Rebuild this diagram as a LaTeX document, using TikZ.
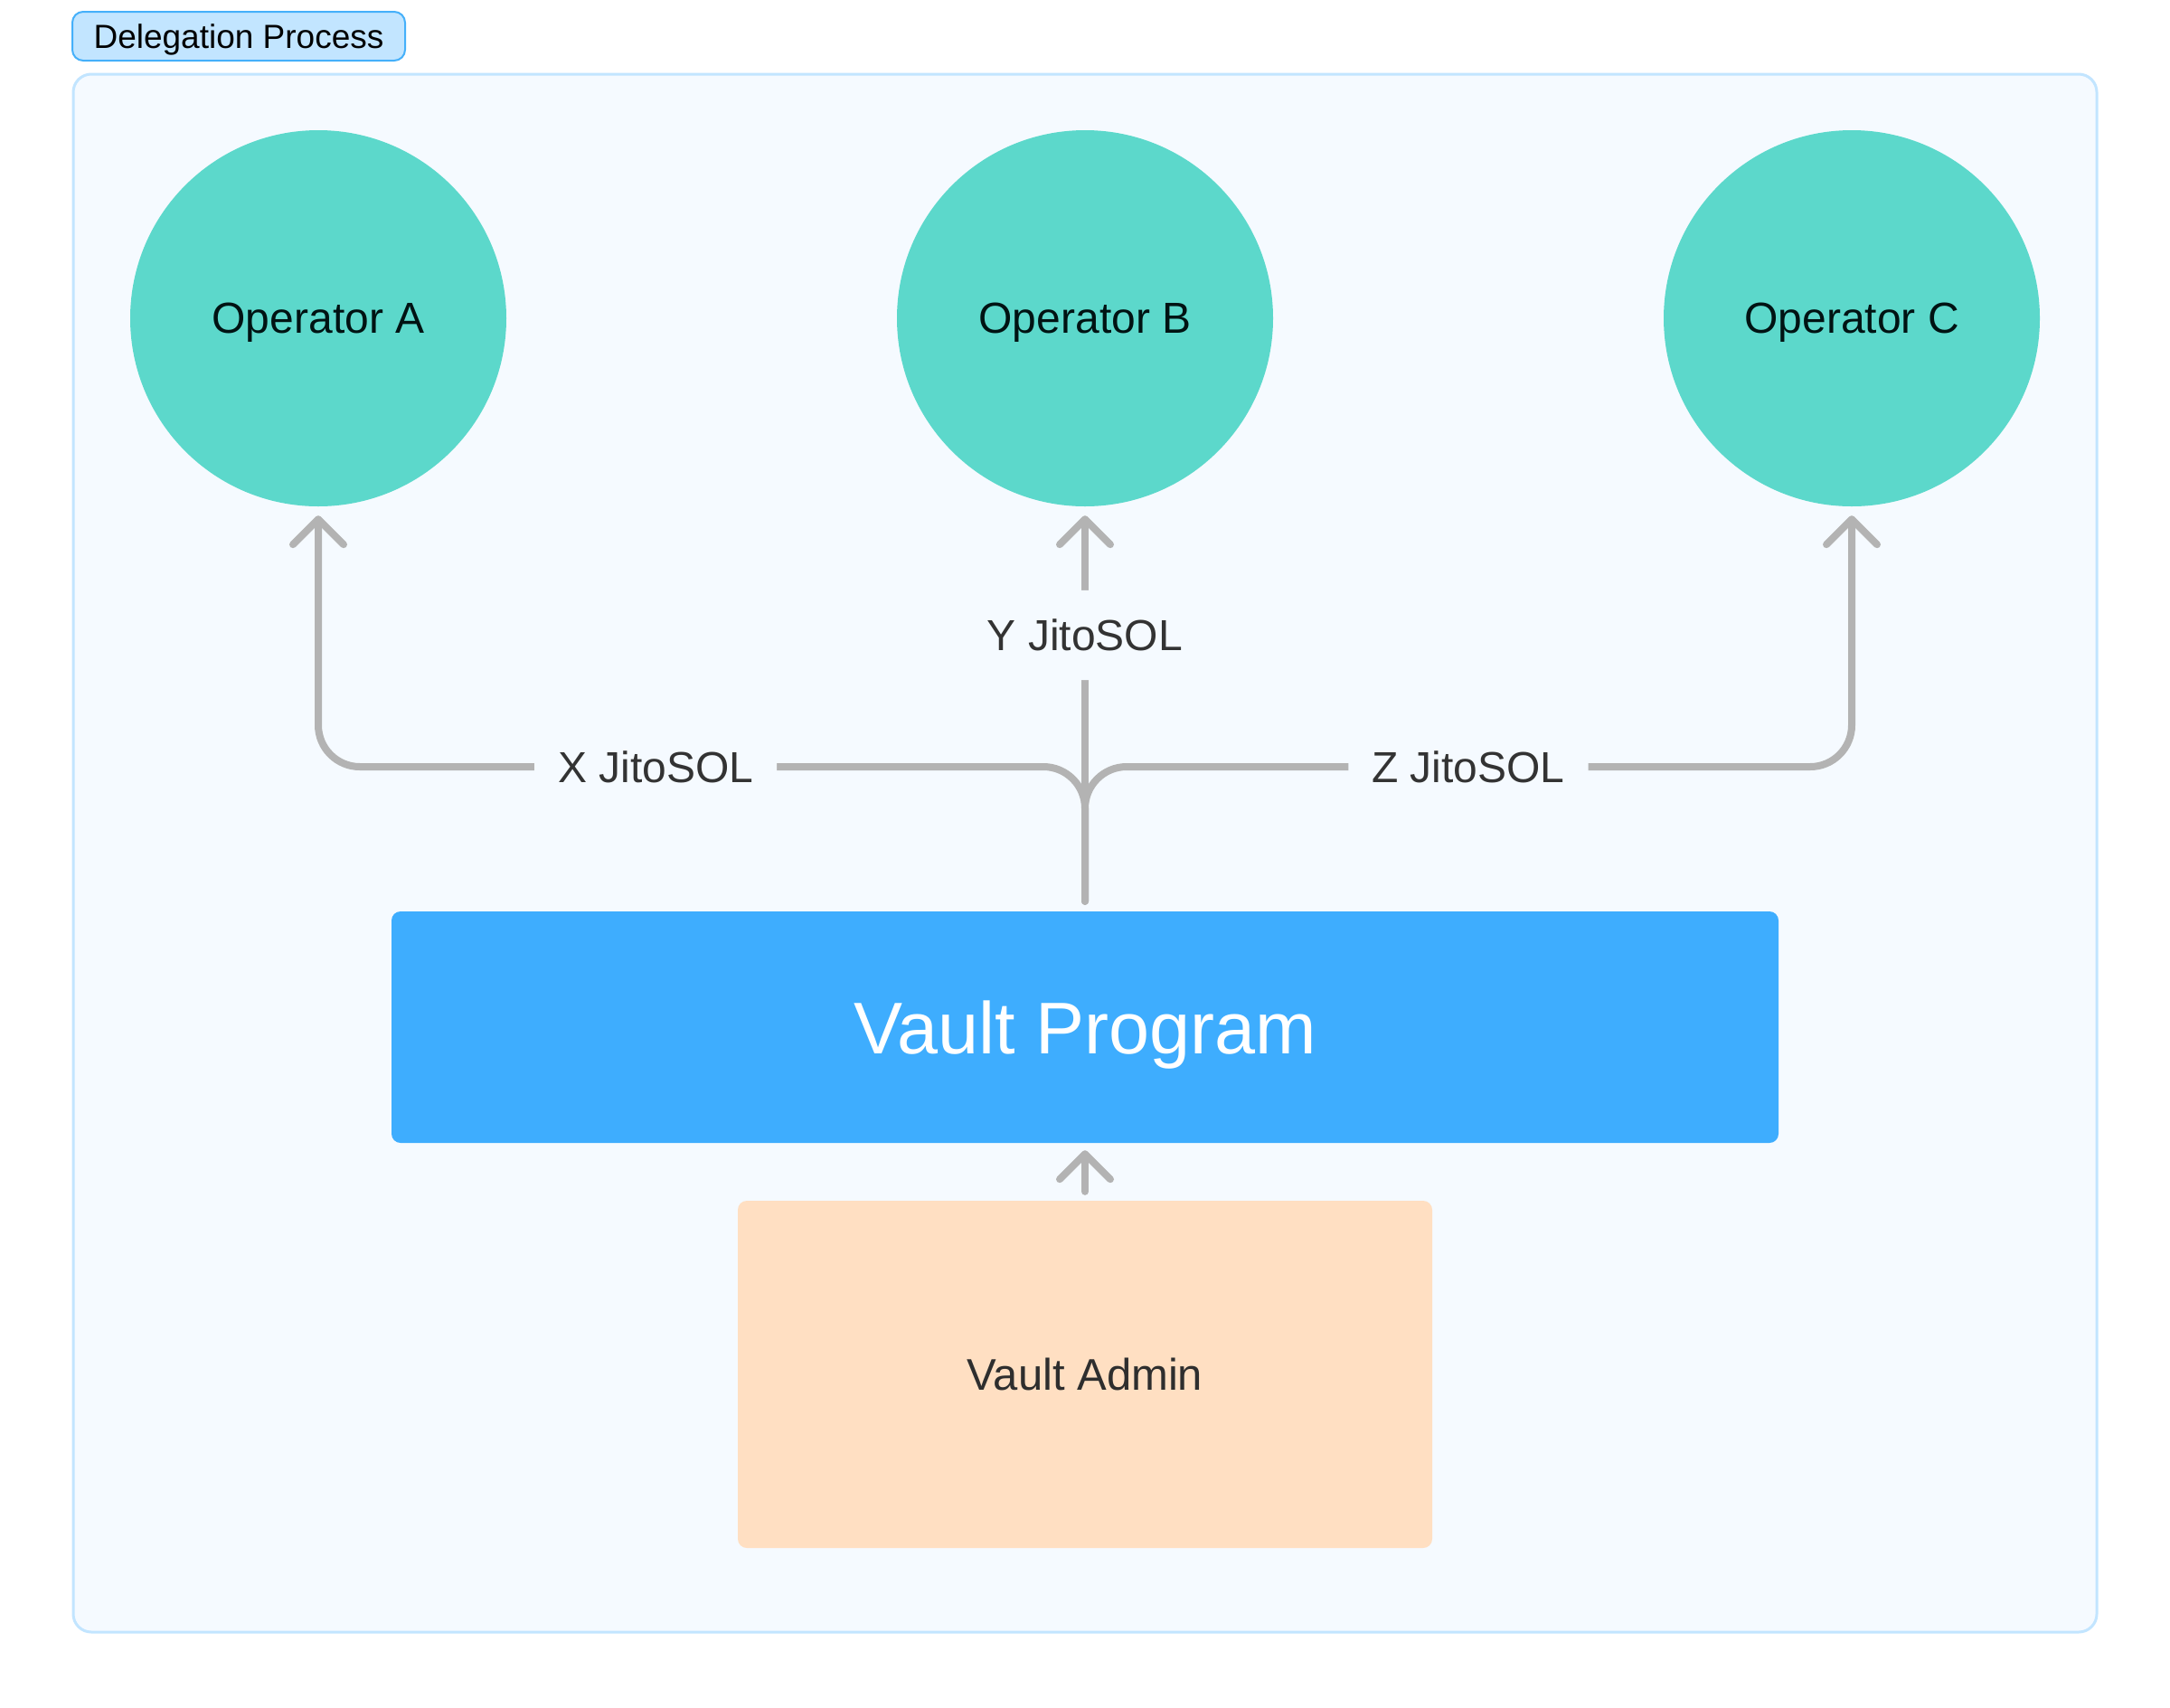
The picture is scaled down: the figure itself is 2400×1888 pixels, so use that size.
\documentclass[tikz,border=0pt]{standalone}
\usepackage{fontspec}
\setmainfont{Liberation Sans}
\usepackage{tikz}
\usetikzlibrary{arrows.meta,positioning,calc}

\definecolor{framebg}{HTML}{F5FAFF}
\definecolor{frameline}{HTML}{C2E5FF}
\definecolor{tagline}{HTML}{45B0FA}
\definecolor{opfill}{HTML}{5CD8CB}
\definecolor{progfill}{HTML}{3EADFE}
\definecolor{adminfill}{HTML}{FFDFC2}
\definecolor{flowgray}{HTML}{B3B3B3}

\begin{document}
\begin{tikzpicture}[x=1pt, y=-1pt,
  every node/.style={font=\fontsize{48}{58}\selectfont},
  op/.style={circle, fill=opfill, minimum size=416pt, inner sep=0pt, text depth=0pt, text=black!85!teal},
  prog/.style={rectangle, rounded corners=10pt, fill=progfill, minimum width=1534pt, minimum height=256pt, text=white, text depth=0pt, font=\fontsize{81}{96}\selectfont},
  admin/.style={rectangle, rounded corners=10pt, fill=adminfill, minimum width=768pt, minimum height=384pt, text=black!82, text depth=0pt, font=\fontsize{49}{58}\selectfont},
  lbl/.style={fill=framebg, inner xsep=26pt, inner ysep=32pt, text=black!80},
  flow/.style={draw=flowgray, line width=8pt, line cap=round, line join=round, rounded corners=46pt,
    -{Straight Barb[length=28pt, width=56pt, line cap=round, line join=round]}}]
  \useasboundingbox (0,0) rectangle (2400,1888);
  \fill[white] (0,0) rectangle (2400,1888);

  % group frame and its tag
  \draw[fill=framebg, draw=frameline, line width=3pt, rounded corners=20pt] (81,82) rectangle (2319,1805);
  \node[draw=tagline, fill=frameline, line width=2pt, rounded corners=12pt, minimum width=368pt, minimum height=54pt, inner sep=0pt, text depth=0pt, font=\fontsize{37}{44}\selectfont] (tag) at (264,40) {Delegation Process};

  % operators
  \node[op] (OA) at (352,352) {Operator A};
  \node[op] (OB) at (1200,352) {Operator B};
  \node[op] (OC) at (2048,352) {Operator C};

  % vault
  \node[prog] (PG) at (1200,1136) {Vault Program};
  \node[admin] (AD) at (1200,1520) {Vault Admin};

  % delegations
  \coordinate (fork) at (1200,848);
  \draw[flow] ([yshift=11pt]PG.north) -- (fork) -| node[lbl, pos=0.28] {X JitoSOL} ([yshift=-10pt]OA.south);
  \draw[flow] ([yshift=11pt]PG.north) -- node[lbl, pos=0.69] {Y JitoSOL} ([yshift=-10pt]OB.south);
  \draw[flow] ([yshift=11pt]PG.north) -- (fork) -| node[lbl, pos=0.25] {Z JitoSOL} ([yshift=-10pt]OC.south);

  % admin
  \draw[flow] ([yshift=10pt]AD.north) -- ([yshift=-8pt]PG.south);
\end{tikzpicture}
\end{document}
